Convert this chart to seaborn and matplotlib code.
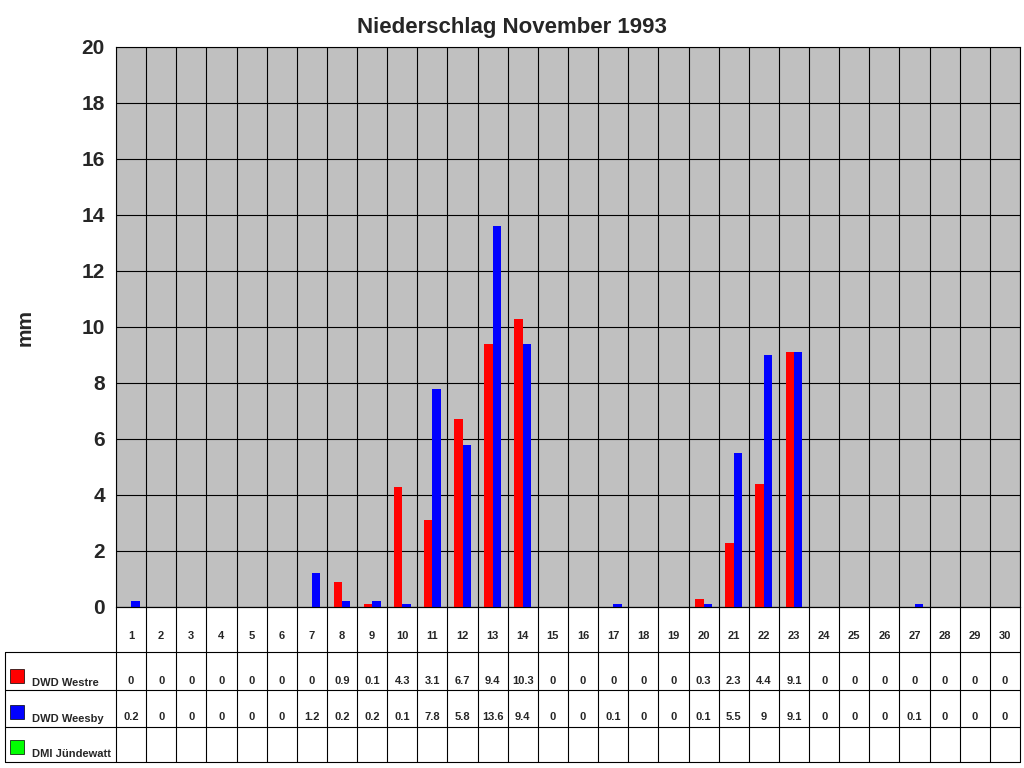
import matplotlib
matplotlib.use("Agg")
import matplotlib.pyplot as plt
import seaborn as sns
import pandas as pd
import numpy as np
from matplotlib.patches import Rectangle

days = [str(d) for d in range(1, 31)]
westre = [0,0,0,0,0,0,0,0.9,0.1,4.3,3.1,6.7,9.4,10.3,0,0,0,0,0,0.3,2.3,4.4,9.1,0,0,0,0,0,0,0]
weesby = [0.2,0,0,0,0,0,1.2,0.2,0.2,0.1,7.8,5.8,13.6,9.4,0,0,0.1,0,0,0.1,5.5,9,9.1,0,0,0,0.1,0,0,0]
series = ["DWD Westre", "DWD Weesby", "DMI Jündewatt"]
colors = ["#ff0000", "#0000ff", "#00ff00"]

df = pd.DataFrame({
    "day": days * 2,
    "mm": westre + weesby,
    "station": [series[0]] * 30 + [series[1]] * 30,
})

sns.set_style("white")
plt.rcParams["font.family"] = ["Liberation Sans", "DejaVu Sans"]
fig = plt.figure(figsize=(10.24, 7.68), dpi=100)
W, H = 1024, 768
L, R, T, B = 116, 1020, 47, 607
ax = fig.add_axes([L / W, 1 - B / H, (R - L) / W, (B - T) / H])
ax.set_facecolor("#c0c0c0")
sns.barplot(data=df, x="day", y="mm", hue="station", palette=colors[:2],
            width=0.56, gap=0.0, ax=ax, legend=False, saturation=1, zorder=3,
            linewidth=0)
ax.set_ylim(0, 20)
ax.set_xlim(-0.5, 29.5)
ax.set_yticks(range(0, 21, 2))
ax.tick_params(axis="y", labelsize=15, length=0, pad=8)
for lab in ax.get_yticklabels():
    lab.set_fontweight("bold")
ax.set_xticks([])
ax.set_xlabel("")
ax.set_ylabel("")
ax.grid(axis="both", color="black", linewidth=0.8, zorder=0)
ax.set_xticks(np.arange(-0.5, 30, 1), minor=True)
ax.grid(which="minor", axis="x", color="black", linewidth=0.8)
ax.tick_params(which="minor", length=0)
for s in ax.spines.values():
    s.set_color("black")
fig.text(512 / W, 1 - 28 / H, "Niederschlag November 1993", ha="center", va="center",
         fontsize=16, fontweight="bold")
fig.text(25 / W, 1 - 327 / H, "mm", ha="center", va="center", rotation=90,
         fontsize=15, fontweight="bold")

# data table below
def fx(px): return px / W
def fy(py): return 1 - py / H
rows = [607, 652, 690, 727, 762]
colw = (R - L) / 30
lk = dict(color="black", linewidth=0.8, transform=fig.transFigure)
for i, y in enumerate(rows):
    x0 = L if i == 0 else 5
    fig.add_artist(plt.Line2D([fx(x0), fx(R)], [fy(y), fy(y)], **lk))
for j in range(31):
    x = L + j * colw
    fig.add_artist(plt.Line2D([fx(x), fx(x)], [fy(607), fy(762)], **lk))
fig.add_artist(plt.Line2D([fx(5), fx(5)], [fy(652), fy(762)], **lk))
for j in range(30):
    cx = fx(L + (j + 0.5) * colw)
    fig.text(cx, fy(636), days[j], ha="center", va="center", fontsize=8, fontweight="bold")
    for vals, yy in ((westre, 681), (weesby, 717)):
        v = vals[j]
        txt = str(int(v)) if v == int(v) else str(v)
        fig.text(cx, fy(yy), txt, ha="center", va="center", fontsize=8, fontweight="bold")
for k, (name, yy) in enumerate(zip(series, (681, 717, 752))):
    fig.add_artist(Rectangle((fx(10), fy(yy + 2)), 14 / W, 14 / H, facecolor=colors[k],
                             edgecolor="black", linewidth=0.5, transform=fig.transFigure))
    fig.text(fx(32), fy(yy + 2), name, ha="left", va="center", fontsize=8, fontweight="bold")

fig.savefig("out.png", dpi=100, facecolor="white")
